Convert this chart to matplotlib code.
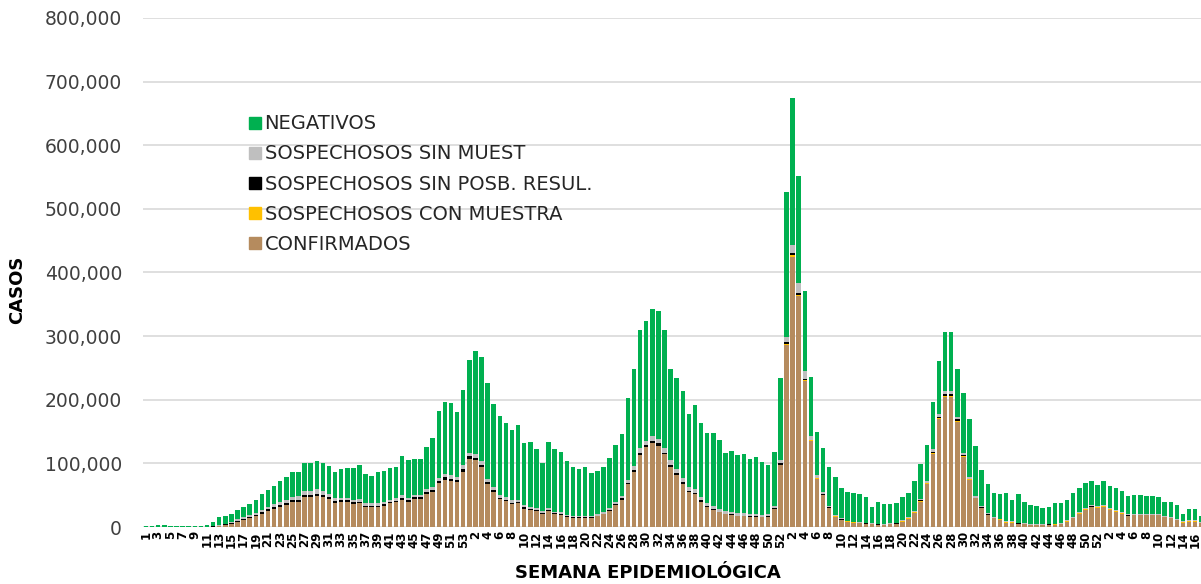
import numpy as np
import matplotlib.pyplot as plt
from matplotlib.lines import Line2D
from matplotlib.ticker import FuncFormatter

# semanas epidemiologicas 2020 (53), 2021 (52), 2022 (52), 2023 (17)
semanas = list(range(1, 54)) + list(range(1, 53)) + list(range(1, 53)) + list(range(1, 18))

# valores en miles de casos
total_k = [
    # 2020
    1, 2, 2.5, 2.5, 2, 1.5, 2, 1.5, 1.5, 2,
    3.5, 8, 15, 18, 20, 27, 31, 36, 42, 52,
    58, 64, 73, 78, 87, 87, 101, 100, 104, 101,
    96, 87, 91, 93, 92, 97, 84, 80, 86, 88,
    92, 95, 112, 105, 107, 107, 125, 140, 183, 197,
    195, 180, 216,
    # 2021
    263, 277, 267, 226, 193, 175, 164, 153, 161, 132,
    133, 123, 101, 134, 122, 118, 104, 95, 91, 94,
    85, 88, 95, 108, 129, 146, 203, 248, 309, 324,
    342, 340, 310, 248, 234, 214, 177, 191, 163, 147,
    147, 137, 116, 120, 113, 115, 107, 110, 102, 97,
    118, 234,
    # 2022
    527, 674, 552, 371, 235, 150, 124, 94, 78, 62,
    55, 53, 52, 47, 31, 40, 36, 36, 37.5, 47,
    53, 72, 99, 129, 196, 261, 306, 306, 248, 210,
    170, 128, 90, 68, 54, 52, 54, 42, 52, 40,
    34, 33, 30, 32, 37.5, 37, 43, 53, 61, 69,
    73, 66.5,
    # 2023
    73, 64, 62, 56, 49, 50.5, 50.5, 49, 48, 47,
    39, 40, 35, 21, 28, 28, 18,
]

confirmados_k = [
    0, 0, 0, 0, 0, 0, 0, 0, 0, 0.1,
    0.3, 0.6, 1.5, 3, 5, 8, 11, 14, 17, 21,
    25, 28, 32, 35, 39, 39, 47, 47, 49, 47,
    44, 38, 39, 39, 36.5, 37, 31, 31, 31, 33,
    37, 39, 43, 40, 44, 44, 52, 55, 69, 74,
    72, 70, 87,
    107, 105, 94, 68, 55, 44, 41, 36, 37, 29,
    27, 25, 21, 25, 20, 19, 16, 14, 14, 14,
    14, 17, 20, 25, 34, 43, 67, 87, 113, 125,
    132, 128, 114, 95, 82, 68, 55, 52, 40, 31,
    27, 23, 20, 19, 17, 17, 16, 16, 15, 16,
    29, 98,
    286, 425, 363, 229, 135, 75, 50, 30, 16, 11,
    8.5, 7, 6, 5, 4, 3, 3, 4, 5, 8.5,
    13, 22, 40, 67, 115, 170, 205, 205, 165, 110,
    74, 45, 30, 19, 14, 11, 7, 7, 5, 4,
    3, 2.5, 2.5, 3, 3.5, 4, 8.5, 14, 21, 27,
    31, 30,
    32, 27, 24, 21, 17.5, 18.6, 18.6, 18.6, 18.6, 18.6,
    15, 14, 11, 7, 8, 8, 6,
]

con_muestra_k = [
    0] * 53 + [0] * 52 + [
    1, 2, 2, 1.5, 1, 1.5, 0.5, 0.5, 1, 0.5,
    0.3, 0.3, 0.3, 0.3, 0.3, 0.3, 0.3, 0.3, 0.3, 0.5,
    0.5, 0.8, 1, 1.5, 2, 1.5, 1.5, 1.5, 1, 1,
    0.8, 0.5, 0.5, 0.5, 0.5, 0.8, 0.5, 0.5, 0.5, 0.5,
    0.5, 0.8, 0.8, 0.8, 0.5, 0.5, 0.5, 0.5, 0.8, 1,
    1, 0.8,
    0.8, 1, 1, 0.5, 0.5, 0.3, 0.3, 0.3, 0.3, 0.3,
    0.3, 0.3, 0.3, 0.5, 1, 1, 0.5,
]

sin_posib_k = [
    0, 0, 0, 0, 0, 0, 0, 0, 0, 0,
    0.1, 0.3, 0.8, 1, 1.2, 1.5, 1.8, 2, 2.2, 2.5,
    2.8, 3, 3, 3, 3.2, 3.3, 3.5, 3.5, 3.5, 3.3,
    3, 2.8, 2.8, 2.8, 2.7, 2.7, 2.5, 2.5, 2.5, 2.5,
    2.5, 2.6, 2.8, 2.6, 2.8, 2.8, 3, 3.2, 3.5, 3.8,
    3.8, 3.8, 4,
    4, 4, 3.5, 3, 2.5, 2, 2, 2, 2, 1.8,
    1.6, 1.5, 1.4, 1.5, 1.3, 1.2, 1.1, 1, 1, 1,
    1, 1, 1, 1.2, 1.5, 1.8, 2.5, 3, 3.5, 3.5,
    3.5, 3.5, 3, 3, 2.5, 2.2, 2, 2, 1.8, 1.5,
    1.3, 1.2, 1.1, 1, 1, 1, 1, 1, 1, 1,
    1.2, 2,
    3, 3, 3, 2, 1.5, 1, 0.8, 0.5, 0.5, 0.5,
    0.3, 0.3, 0.3, 0.3, 0.3, 0.8, 0.3, 0.3, 0.3, 0.3,
    0.3, 0.5, 0.8, 1, 1.5, 2, 2.5, 3, 3, 2,
    1, 0.8, 0.5, 0.5, 0.3, 0.3, 0.3, 0.3, 0.3, 0.3,
    0.3, 0.3, 0.3, 0.3, 0.3, 0.3, 0.3, 0.3, 0.3, 0.3,
    1, 0.3,
    0.3, 0.3, 0.3, 0.3, 1, 0.3, 0.3, 0.3, 0.3, 0.3,
    0.3, 0.3, 0.3, 0.3, 0.3, 0.3, 0.3,
]

sin_muestra_k = [
    0, 0, 0, 0, 0, 0, 0, 0, 0, 0,
    0.2, 0.5, 1, 1.5, 2, 2.5, 3, 3, 3.5, 4,
    4, 4.5, 5, 5, 5.5, 6, 6.5, 6.5, 6.5, 6,
    5.5, 4.5, 4.5, 4.5, 4, 4, 3.5, 3.5, 3.5, 3.5,
    3.5, 3.5, 4, 3.5, 3.5, 3.5, 4, 4, 5, 5.5,
    5.5, 5.5, 6,
    6, 6, 6, 5, 5, 4.5, 4, 4, 4, 3.5,
    3.5, 3, 3, 3, 3, 3, 2.5, 2.5, 2.5, 2.5,
    2.5, 2.5, 3, 3, 3.5, 4, 5, 6, 7, 7,
    7, 7, 7, 7, 7, 6.5, 6, 6, 5.5, 5,
    4.5, 4, 4, 3.5, 3.5, 3.5, 3, 3, 3, 3,
    3.5, 5,
    8, 13, 15, 12, 5, 4, 3, 2, 1.5, 1.5,
    1, 1, 1, 1, 1, 1, 1, 1, 1, 1.5,
    1.5, 2, 2.5, 3, 4, 4, 4, 4, 3.5, 3,
    2.5, 2, 1.5, 1.5, 1.2, 1.2, 1, 1, 1, 1,
    1, 1, 1, 1, 1, 1, 1, 1, 1.2, 1.5,
    1.5, 1.5,
    1.5, 1.5, 1.5, 1.2, 1.2, 1, 1, 1, 1, 1,
    1, 1, 1, 1, 1, 1, 1,
]

confirmados = np.array(confirmados_k) * 1000
con_muestra = np.array(con_muestra_k) * 1000
sin_posib = np.array(sin_posib_k) * 1000
sin_muestra = np.array(sin_muestra_k) * 1000
negativos = np.array(total_k) * 1000 - confirmados - con_muestra - sin_posib - sin_muestra
negativos = np.clip(negativos, 0, None)

series = [
    ("CONFIRMADOS", confirmados, "#B58B5E"),
    ("SOSPECHOSOS CON MUESTRA", con_muestra, "#FFC000"),
    ("SOSPECHOSOS SIN POSB. RESUL.", sin_posib, "#000000"),
    ("SOSPECHOSOS SIN MUEST", sin_muestra, "#BFBFBF"),
    ("NEGATIVOS", negativos, "#00B050"),
]

plt.rcParams['font.family'] = ['DejaVu Sans']

fig = plt.figure(figsize=(12.01, 5.84), dpi=100)
ax = fig.add_axes([0.119, 0.0976, 0.881, 0.8716])

x = np.arange(len(semanas))
bottom = np.zeros(len(semanas))
for name, vals, color in series:
    ax.bar(x, vals, bottom=bottom, width=0.74, color=color, linewidth=0, zorder=3)
    bottom = bottom + vals

ax.set_ylim(0, 800000)
ax.set_xlim(-0.5, 172.95)
ax.set_yticks(np.arange(0, 800001, 100000))
ax.yaxis.set_major_formatter(FuncFormatter(lambda v, p: f"{int(v):,}"))
ax.grid(axis='y', color='#D9D9D9', linewidth=1.2, zorder=0)
for s in ax.spines.values():
    s.set_visible(False)
ax.tick_params(axis='y', length=0, pad=15, labelsize=13.5, labelcolor='#404040')
ax.tick_params(axis='x', length=0, pad=3)

ax.set_xticks(x[::2])
ax.set_xticklabels([str(s) for s in semanas[::2]], rotation=90, fontsize=8.5,
                   fontweight='bold', color='black')

ax.set_ylabel("CASOS", fontsize=13, fontweight='bold')
ax.yaxis.set_label_coords(-0.110, 0.465)
ax.set_xlabel("SEMANA EPIDEMIOLÓGICA", fontsize=13, fontweight='bold')
ax.xaxis.set_label_coords(0.477, -0.072)

handles = [Line2D([], [], marker='s', linestyle='none', markersize=8,
                  markerfacecolor=c, markeredgecolor=c, label=n)
           for n, v, c in series[::-1]]
ax.legend(handles=handles, loc='upper left', bbox_to_anchor=(0.092, 0.826),
          frameon=False, fontsize=14, handletextpad=0.15, labelspacing=0.57,
          handlelength=0.7, borderaxespad=0, labelcolor='#262626')

fig.savefig("out.png", dpi=100)
